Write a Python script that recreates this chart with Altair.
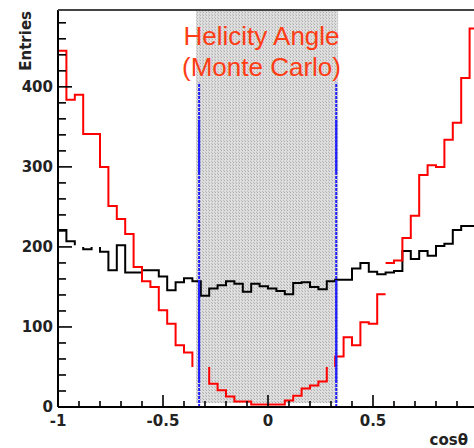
import altair as alt
import numpy as np
import pandas as pd

# Histogram binning: 50 bins of width 0.04 starting at cos = -1
bin_lo = -1.0
bin_w = 0.04

# Red histogram (entries per bin)
red_counts = [445, 384, 390, 341, 341, 300, 251, 235, 216, 175,
              157, 150, 121, 104, 77, 68, 50, 50, 29, 21,
              13, 7, 7, 3, 3, 3, 3, 8, 14, 23,
              27, 32, 50, 63, 87, 77, 106, 104, 141, 180,
              183, 211, 239, 290, 302, 300, 334, 355, 411, 473]
# Drawn pieces: (first bin, last bin, lead-in level, lead-out level)
red_pieces = [(0, 15, None, 50), (18, 31, 50, 50), (33, 38, 50, None), (39, 49, None, None)]

# Black histogram (entries per bin)
black_counts = [221, 207, 202, 197, 200, 194, 171, 202, 168, 168,
                171, 171, 163, 146, 156, 161, 157, 139, 148, 152,
                157, 154, 144, 154, 151, 148, 145, 141, 155, 156,
                150, 147, 157, 159, 159, 173, 180, 169, 166, 168,
                170, 195, 185, 195, 189, 201, 204, 221, 226, 226]
black_pieces = [(0, 1, None, 202), (3, 3, 200, 200), (5, 49, 200, None)]

# Selected helicity window and the cut lines
shade_range = [-0.342, 0.334]
shade_floor = 5
cut_values = [-0.328, 0.325]
cut_top = 405
cut_solid = [(292, 359), (30, 157)]

# Axis ticks and labels
x_major = [-1, -0.5, 0, 0.5]
x_labels = ["-1", "-0.5", "0", "0.5"]
x_minor = [-0.9, -0.8, -0.7, -0.6, -0.4, -0.3, -0.2, -0.1,
           0.1, 0.2, 0.3, 0.4, 0.6, 0.7, 0.8, 0.9]
y_major = [0, 100, 200, 300, 400]
y_labels = ["0", "100", "200", "300", "400"]
y_minor = [v for v in range(20, 500, 20) if v % 100]

x_dom = [-1.0, 0.981]
y_dom = [0, 496]
W, H = 416, 397

xs = alt.Scale(domain=x_dom, nice=False, zero=False)
ys = alt.Scale(domain=y_dom, nice=False, zero=False)


def step_rows(counts, pieces, name):
    rows = []
    for k, (first, last, lead_in, lead_out) in enumerate(pieces):
        pts = []
        if lead_in is not None:
            pts.append((bin_lo + first * bin_w, lead_in))
        for b in range(first, last + 1):
            pts.append((bin_lo + b * bin_w, counts[b]))
            pts.append((bin_lo + (b + 1) * bin_w, counts[b]))
        if lead_out is not None:
            pts.append((bin_lo + (last + 1) * bin_w, lead_out))
        for i, (x, y) in enumerate(pts):
            rows.append({"piece": f"{name}{k}", "i": i, "x": x, "y": y})
    return pd.DataFrame(rows)


def hist_layer(counts, pieces, name, color):
    return alt.Chart(step_rows(counts, pieces, name)).mark_line(
        color=color, strokeWidth=2, clip=True, interpolate="linear"
    ).encode(
        x=alt.X("x:Q", scale=xs, axis=None),
        y=alt.Y("y:Q", scale=ys, axis=None),
        detail="piece:N",
        order="i:Q",
    )


one = pd.DataFrame({"a": [0]})

# Stippled fill of the selected window: light base plus a fine hatch grid
shade = alt.Chart(pd.DataFrame({"x0": [shade_range[0]], "x1": [shade_range[1]],
                                "y0": [shade_floor], "y1": [y_dom[1]]})).mark_rect(
    color="#e0e0e0", clip=True
).encode(
    x=alt.X("x0:Q", scale=xs, axis=None), x2="x1:Q",
    y=alt.Y("y0:Q", scale=ys, axis=None), y2="y1:Q",
)
hatch_x = np.arange(shade_range[0] + 0.006, shade_range[1], 0.0143)
hatch_y = np.arange(shade_floor + 2, y_dom[1], 3.75)
hatch_v = alt.Chart(pd.DataFrame({"x": hatch_x})).mark_rule(
    color="#949494", strokeWidth=0.7, strokeDash=[1, 2], clip=True
).encode(
    x=alt.X("x:Q", scale=xs, axis=None),
    y=alt.value(H - 0.8 * shade_floor), y2=alt.value(0),
)
hatch_h = alt.Chart(pd.DataFrame({"y": hatch_y})).mark_rule(
    color="#949494", strokeWidth=0.7, strokeDash=[1, 2], clip=True
).encode(
    y=alt.Y("y:Q", scale=ys, axis=None),
    x=alt.X("x0:Q", scale=xs, axis=None), x2="x1:Q",
).transform_calculate(x0=str(shade_range[0]), x1=str(shade_range[1]))

red = hist_layer(red_counts, red_pieces, "r", "#ff0000")
black = hist_layer(black_counts, black_pieces, "k", "#000000")

cut_df = pd.DataFrame({"x": cut_values, "y0": [0] * 2, "y1": [cut_top] * 2})
cuts_dotted = alt.Chart(cut_df).mark_rule(
    color="#1f1fff", strokeWidth=2, strokeDash=[3, 1]
).encode(
    x=alt.X("x:Q", scale=xs, axis=None),
    y=alt.Y("y0:Q", scale=ys, axis=None), y2="y1:Q",
)
solid_rows = [{"x": c, "y0": lo, "y1": hi} for c in cut_values for lo, hi in cut_solid]
cuts_solid = alt.Chart(pd.DataFrame(solid_rows)).mark_rule(
    color="#1f1fff", strokeWidth=2
).encode(
    x=alt.X("x:Q", scale=xs, axis=None),
    y=alt.Y("y0:Q", scale=ys, axis=None), y2="y1:Q",
)

# Frame and axis lines
left_axis = alt.Chart(one).mark_rule(color="#000000", strokeWidth=2).encode(
    x=alt.value(0), y=alt.value(0), y2=alt.value(H))
bottom_axis = alt.Chart(one).mark_rule(color="#000000", strokeWidth=2).encode(
    x=alt.value(0), x2=alt.value(W), y=alt.value(H))
top_frame = alt.Chart(one).mark_rule(color="#444444", strokeWidth=2).encode(
    x=alt.value(0), x2=alt.value(W), y=alt.value(0))


# Inward ticks
def y_ticks(vals, length):
    return alt.Chart(pd.DataFrame({"v": vals})).mark_rule(color="#000000", strokeWidth=1.6).encode(
        y=alt.Y("v:Q", scale=ys, axis=None), x=alt.value(0), x2=alt.value(length))


def x_ticks(vals, length):
    return alt.Chart(pd.DataFrame({"v": vals})).mark_rule(color="#000000", strokeWidth=1.6).encode(
        x=alt.X("v:Q", scale=xs, axis=None), y=alt.value(H), y2=alt.value(H - length))


label_font = dict(font="DejaVu Sans", fontWeight="bold", fontSize=15, color="#222222")

y_text = alt.Chart(pd.DataFrame({"v": y_major, "t": y_labels})).mark_text(
    align="right", baseline="middle", **label_font
).encode(y=alt.Y("v:Q", scale=ys, axis=None), x=alt.value(-5), text="t:N")

x_text = alt.Chart(pd.DataFrame({"v": x_major, "t": x_labels})).mark_text(
    align="center", baseline="top", **label_font
).encode(x=alt.X("v:Q", scale=xs, axis=None), y=alt.value(H + 7), text="t:N")

y_title = alt.Chart(one).mark_text(
    text="Entries", angle=270, align="right", baseline="alphabetic", **label_font
).encode(x=alt.value(-27), y=alt.value(1))

x_title = alt.Chart(one).mark_text(
    text="cosθ", align="right", baseline="alphabetic", **label_font
).encode(x=alt.value(410), y=alt.value(435))

headline = alt.Chart(one).mark_text(
    text=["Helicity Angle", "(Monte Carlo)"], lineHeight=31,
    font="Liberation Sans", fontSize=26, color="#ff3c14",
    align="center", baseline="alphabetic",
).encode(x=alt.value(203.5), y=alt.value(35))

chart = alt.layer(
    shade, hatch_v, hatch_h, black, red, cuts_dotted, cuts_solid,
    y_ticks(y_major, 14), y_ticks(y_minor, 8),
    x_ticks(x_major, 12), x_ticks(x_minor, 6),
    left_axis, bottom_axis, top_frame,
    y_text, x_text, y_title, x_title, headline,
).properties(
    width=W, height=H,
    autosize=alt.AutoSizeParams(type="none"),
    padding={"left": 58, "top": 10, "right": 0, "bottom": 41},
    background="white",
).configure_view(stroke=None)

chart.save("out.html", embed_options={"renderer": "svg", "actions": False})
